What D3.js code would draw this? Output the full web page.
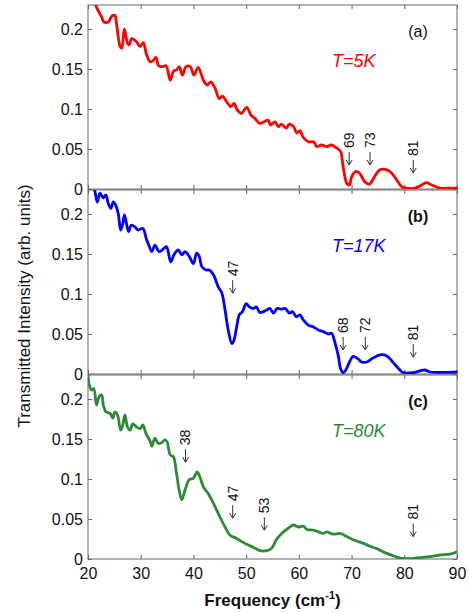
<!DOCTYPE html>
<html>
<head>
<meta charset="utf-8">
<script src="https://cdn.jsdelivr.net/npm/d3@7"></script>
<style>
  body { margin: 0; background: #fff; }
  svg { display: block; font-family: "Liberation Sans", Arial, sans-serif; }
  .axis text { font-size: 16px; fill: #111; }
  .axis line { stroke: #666; }
  .axis path { display: none; }
</style>
</head>
<body>
<svg id="chart" width="469" height="613"></svg>
<script>
// transmission spectra
var freqA = [20, 21, 21.5, 22, 22.6, 23, 23.9, 24.5, 25.1, 25.4, 26.1, 26.4, 26.9, 27.5, 27.8, 28.3, 29.2, 29.9, 30.5, 31.1, 31.8, 32.4, 32.9, 33.4, 34.2, 34.8, 35.6, 36.2, 36.8, 37.3, 37.9, 38.6, 39.4, 40.1, 40.9, 41.9, 42.6, 43.3, 44.1, 44.9, 45.5, 46.3, 47.1, 47.7, 48.3, 49.1, 50.1, 50.9, 51.7, 52.6, 53.4, 54.2, 54.6, 55.5, 56.1, 56.7, 57.6, 58.2, 59, 59.6, 60.2, 60.8, 61.8, 62.8, 63.4, 64.3, 65.3, 66.2, 67.2, 67.9, 68.4, 69.1, 69.6, 70, 70.8, 71.5, 72.5, 73.4, 74.3, 75.4, 76.7, 77.6, 78.6, 79.5, 80.5, 82, 83.3, 84.2, 85.2, 86.8, 88, 90];
var intA = [0.25, 0.24, 0.229, 0.222, 0.215, 0.209, 0.209, 0.216, 0.217, 0.207, 0.178, 0.176, 0.2, 0.182, 0.18, 0.188, 0.184, 0.178, 0.183, 0.168, 0.159, 0.161, 0.1645, 0.154, 0.153, 0.154, 0.136, 0.147, 0.149, 0.153, 0.1425, 0.153, 0.153, 0.1425, 0.152, 0.136, 0.13, 0.134, 0.126, 0.113, 0.116, 0.109, 0.103, 0.107, 0.099, 0.0946, 0.102, 0.0925, 0.088, 0.082, 0.084, 0.086, 0.08, 0.084, 0.078, 0.081, 0.076, 0.081, 0.078, 0.07, 0.073, 0.065, 0.059, 0.059, 0.053, 0.055, 0.053, 0.055, 0.051, 0.047, 0.028, 0.007, 0.005, 0.015, 0.022, 0.02, 0.009, 0.006, 0.015, 0.024, 0.024, 0.02, 0.011, 0.003, 0.001, 0.001, 0.005, 0.008, 0.005, 0.001, 0.001, 0.001];

var freqB = [20.8, 21.33, 21.77, 22.28, 22.9, 23.4, 23.85, 24.36, 24.8, 25.25, 25.75, 26.2, 26.6, 26.9, 27.3, 27.7, 28.2, 28.9, 29.5, 30.4, 31.1, 31.6, 32.1, 32.7, 33.5, 34.4, 34.9, 35.7, 36.3, 37.1, 37.8, 38.4, 39.2, 40, 40.6, 41.1, 41.6, 42.4, 43, 43.8, 44.7, 45.4, 46, 46.6, 47.3, 47.7, 48.2, 48.7, 49.3, 50, 50.6, 51.4, 51.9, 52.6, 53.3, 53.9, 54.5, 55.2, 55.9, 56.7, 57.4, 58.2, 58.8, 59.5, 60.2, 60.85, 61.8, 62.7, 63.7, 64.6, 65.6, 66.2, 66.9, 67.5, 67.9, 68.4, 68.9, 69.6, 70.3, 71.1, 71.9, 72.9, 74, 75.4, 76.7, 77.8, 78.9, 79.8, 81.7, 83, 83.9, 84.9, 86.6, 88, 90];
var intB = [0.24, 0.228, 0.215, 0.226, 0.22, 0.224, 0.213, 0.207, 0.215, 0.211, 0.2, 0.18, 0.188, 0.199, 0.188, 0.178, 0.186, 0.184, 0.18, 0.182, 0.168, 0.16, 0.153, 0.161, 0.153, 0.157, 0.159, 0.14, 0.149, 0.155, 0.149, 0.153, 0.147, 0.138, 0.151, 0.147, 0.134, 0.13, 0.13, 0.124, 0.109, 0.101, 0.08, 0.055, 0.038, 0.0425, 0.059, 0.074, 0.078, 0.088, 0.084, 0.082, 0.084, 0.077, 0.078, 0.08, 0.082, 0.076, 0.082, 0.081, 0.082, 0.076, 0.078, 0.0716, 0.074, 0.0675, 0.061, 0.059, 0.055, 0.053, 0.05, 0.051, 0.038, 0.022, 0.007, 0.0017, 0.005, 0.015, 0.022, 0.0196, 0.015, 0.015, 0.0196, 0.024, 0.0225, 0.015, 0.007, 0.0017, 0.0017, 0.004, 0.005, 0.0025, 0.002, 0.002, 0.0025];

var freqC = [20, 20.25, 20.7, 21.1, 21.6, 22.1, 22.6, 22.9, 23.4, 24.2, 24.7, 25.1, 25.6, 26.2, 26.6, 27, 27.5, 28, 28.5, 29.2, 29.9, 30.4, 31, 31.8, 32.1, 32.7, 33.3, 33.9, 34.6, 35, 35.6, 36.2, 36.7, 37.3, 37.8, 38.4, 39.2, 40, 40.7, 41.2, 41.9, 42.8, 43.8, 45, 46, 46.9, 48.1, 49.2, 50.4, 51.7, 52.6, 53.9, 54.85, 55.7, 56.75, 57.7, 58.95, 59.9, 60.85, 61.5, 62.75, 63.7, 64.6, 65.3, 66.5, 67.8, 69.1, 70.3, 71.9, 73.5, 75.1, 76.3, 77.9, 79.2, 81.1, 83, 84.9, 86.8, 88.7, 90];
var intC = [0.23, 0.2175, 0.211, 0.213, 0.1925, 0.203, 0.205, 0.1925, 0.184, 0.182, 0.176, 0.184, 0.18, 0.161, 0.1675, 0.18, 0.165, 0.161, 0.169, 0.165, 0.163, 0.1675, 0.157, 0.147, 0.141, 0.151, 0.1446, 0.145, 0.149, 0.1467, 0.13, 0.128, 0.111, 0.086, 0.074, 0.086, 0.099, 0.101, 0.109, 0.103, 0.09, 0.082, 0.0696, 0.053, 0.04, 0.03, 0.026, 0.0217, 0.0175, 0.0134, 0.0104, 0.0104, 0.0134, 0.024, 0.032, 0.037, 0.0425, 0.04, 0.041, 0.037, 0.036, 0.034, 0.032, 0.034, 0.031, 0.032, 0.028, 0.024, 0.0204, 0.016, 0.012, 0.008, 0.004, 0.001, 0.0005, 0.0017, 0.003, 0.005, 0.006, 0.009];

var panelTags = ["(a)", "(b)", "(c)"];
var panelTemps = ["T=5K", "T=17K", "T=80K"];
var panelColors = ["#ff0000", "#0000ff", "#2f8a35"];

// arrow annotations: panel index, label, frequency, intensity at arrow tip
var annoPanel = [0, 0, 0, 1, 1, 1, 1, 2, 2, 2, 2];
var annoLabel = ["69", "73", "81", "47", "68", "72", "81", "38", "47", "53", "81"];
var annoFreq = [69.55, 73.5, 81.7, 47.45, 68.4, 72.6, 81.7, 38.5, 47.45, 53.45, 81.7];
var annoTip = [0.030, 0.030, 0.020, 0.101, 0.030, 0.030, 0.021, 0.121, 0.051, 0.036, 0.028];

var xTicks = [20, 30, 40, 50, 60, 70, 80, 90];
var yTicks = [0, 0.05, 0.1, 0.15, 0.2];

var left = 88, right = 457, panelH = 184;
var panelTop = [5, 190, 375];

var svg = d3.select("#chart");
var x = d3.scaleLinear().domain([20, 90]).range([left, right]);
var y = d3.scaleLinear().domain([0, 0.23]).range([panelH, 0]);

var series = [
  d3.zip(freqA, intA),
  d3.zip(freqB, intB),
  d3.zip(freqC, intC)
];

var line = d3.line().curve(d3.curveCatmullRom.alpha(0.5))
  .x(function(d){ return x(d[0]); }).y(function(d){ return y(d[1]); });

svg.append("defs").append("clipPath").attr("id", "clip")
  .append("rect").attr("x", left).attr("y", 0).attr("width", right - left).attr("height", panelH);

series.forEach(function(data, i){
  var g = svg.append("g").attr("transform", "translate(0," + panelTop[i] + ")");

  g.append("g").attr("class", "axis").attr("transform", "translate(0," + panelH + ")")
    .call(d3.axisBottom(x).tickValues(xTicks).tickSizeInner(-4).tickSizeOuter(0).tickPadding(9)
      .tickFormat(i == 2 ? d3.format("d") : ""));
  g.append("g").attr("class", "axis")
    .call(d3.axisTop(x).tickValues(xTicks).tickSizeInner(-4).tickSizeOuter(0).tickFormat(""));
  g.append("g").attr("class", "axis").attr("transform", "translate(" + left + ",0)")
    .call(d3.axisLeft(y).tickValues(yTicks).tickSizeInner(-4).tickSizeOuter(0).tickPadding(5)
      .tickFormat(function(d){ return d; }));
  g.append("g").attr("class", "axis").attr("transform", "translate(" + right + ",0)")
    .call(d3.axisRight(y).tickValues(yTicks).tickSizeInner(-4).tickSizeOuter(0).tickFormat(""));

  g.append("rect").attr("x", left).attr("y", 0).attr("width", right - left).attr("height", panelH)
    .attr("fill", "none").attr("stroke", "#666").attr("stroke-width", 1);

  g.append("path").datum(data).attr("clip-path", "url(#clip)")
    .attr("d", line).attr("fill", "none").attr("stroke", panelColors[i])
    .attr("stroke-width", 2.8).attr("stroke-linejoin", "round");

  g.append("text").attr("x", 418).attr("y", 32).attr("text-anchor", "middle")
    .attr("font-size", 16).attr("font-weight", i == 0 ? "normal" : "bold").attr("fill", "#111")
    .text(panelTags[i]);
  g.append("text").attr("x", 332).attr("y", 62).attr("font-size", 18).attr("font-style", "italic")
    .attr("fill", panelColors[i]).text(panelTemps[i]);

  // arrows with rotated numbers
  annoPanel.forEach(function(p, k){
    if (p != i) return;
    var ax = x(annoFreq[k]), ay = y(annoTip[k]);
    g.append("line").attr("x1", ax).attr("x2", ax).attr("y1", ay).attr("y2", ay - 13)
      .attr("stroke", "#333").attr("stroke-width", 1);
    g.append("path").attr("d", "M" + (ax - 3) + "," + (ay - 5) + "L" + ax + "," + ay + "L" + (ax + 3) + "," + (ay - 5))
      .attr("fill", "none").attr("stroke", "#333").attr("stroke-width", 1);
    g.append("text").attr("transform", "translate(" + ax + "," + (ay - 17) + ") rotate(-90)")
      .attr("dy", "0.35em").attr("font-size", 14).attr("fill", "#111").text(annoLabel[k]);
  });
});

svg.append("text").attr("transform", "translate(30,306) rotate(-90)").attr("text-anchor", "middle")
  .attr("font-size", 17).attr("fill", "#111").text("Transmitted Intensity (arb. units)");

var xl = svg.append("text").attr("x", (left + right) / 2).attr("y", 606).attr("text-anchor", "middle")
  .attr("font-size", 17).attr("font-weight", "bold").attr("fill", "#111");
xl.append("tspan").text("Frequency (cm");
xl.append("tspan").attr("dy", -7).attr("font-size", 11).text("-1");
xl.append("tspan").attr("dy", 7).text(")");
</script>
</body>
</html>
